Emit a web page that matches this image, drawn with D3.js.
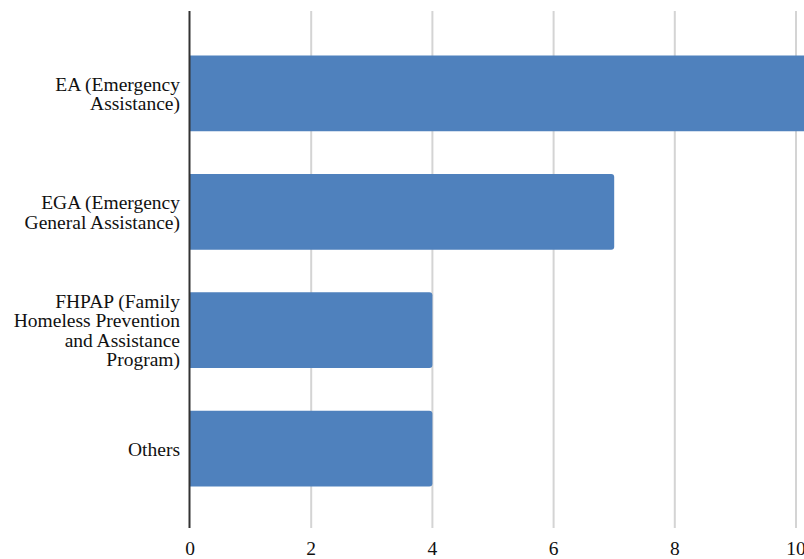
<!DOCTYPE html>
<html><head><meta charset="utf-8">
<script src="https://cdn.jsdelivr.net/npm/d3@7"></script>
<style>body{margin:0;background:#fff}svg{display:block}</style>
</head><body>
<script>
const categories = [
  ["EA (Emergency", "Assistance)"],
  ["EGA (Emergency", "General Assistance)"],
  ["FHPAP (Family", "Homeless Prevention", "and Assistance", "Program)"],
  ["Others"]
];
const values = [10.5, 7, 4, 4];
const ticks = [0, 2, 4, 6, 8, 10];

const W = 804, H = 559;
const FONT = "'Liberation Serif', 'Times New Roman', serif";
const svg = d3.select("body").append("svg").attr("width", W).attr("height", H);
const x = d3.scaleLinear().domain([0, 10]).range([190, 796]);
const y = d3.scaleBand().domain(d3.range(categories.length)).range([14, 528]).paddingInner(0.36).paddingOuter(0.35);

// gridlines
svg.append("g").selectAll("line").data(ticks.filter(t => t > 0)).join("line")
  .attr("x1", d => x(d)).attr("x2", d => x(d)).attr("y1", 11).attr("y2", 528)
  .attr("stroke", "#d4d4d4").attr("stroke-width", 2);

// bars with rounded right corners
const r = 3;
svg.append("g").selectAll("path").data(values).join("path")
  .attr("d", (v, i) => {
    const x0 = x(0), x1 = x(v), y0 = y(i), h = y.bandwidth();
    return `M${x0},${y0}H${x1 - r}Q${x1},${y0} ${x1},${y0 + r}V${y0 + h - r}Q${x1},${y0 + h} ${x1 - r},${y0 + h}H${x0}Z`;
  })
  .attr("fill", "#4f81bd");

// axis line
svg.append("line").attr("x1", 189.5).attr("x2", 189.5).attr("y1", 11).attr("y2", 528)
  .attr("stroke", "#333").attr("stroke-width", 2);

// tick labels
svg.append("g").selectAll("text").data(ticks).join("text")
  .attr("x", d => x(d)).attr("y", 555).attr("text-anchor", "middle")
  .style("font-family", FONT).style("font-size", "19.5px").attr("fill", "#111").text(d => d);

// category labels
const lh = 19.5;
categories.forEach((lines, i) => {
  const cy = y(i) + y.bandwidth() / 2;
  const t = svg.append("text").attr("text-anchor", "end")
    .style("font-family", FONT).style("font-size", "19.5px").attr("fill", "#111");
  lines.forEach((ln, j) => {
    t.append("tspan").attr("x", 180).attr("y", cy + (j - (lines.length - 1) / 2) * lh + 7).text(ln);
  });
});
</script>
</body></html>
